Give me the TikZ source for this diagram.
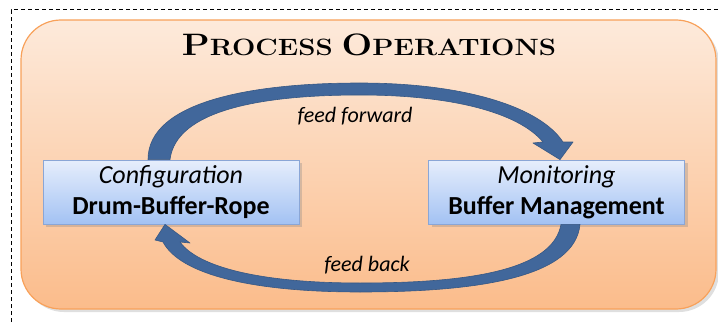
\documentclass[tikz,border=0pt]{standalone}
\usepackage{fontspec}
\setmainfont{Carlito}
\newfontfamily\titlefont[FakeStretch=1.17]{Latin Modern Roman}
\usetikzlibrary{arrows.meta,shadows}

\definecolor{orangeedge}{HTML}{F8A15A}
\definecolor{orangetop}{HTML}{FDEADB}
\definecolor{orangebot}{HTML}{FBBC8B}
\definecolor{boxtop}{HTML}{E6EEFC}
\definecolor{boxbot}{HTML}{A3C2F3}
\definecolor{boxedge}{HTML}{8AA6D6}
\definecolor{flowblue}{HTML}{41679B}

\tikzset{
  stagebox/.style={draw=boxedge, top color=boxtop, bottom color=boxbot,
    minimum width=128pt, minimum height=32pt, inner sep=0pt, align=center,
    font=\fontsize{13}{15.5}\selectfont,
    drop shadow={shadow xshift=1.5pt, shadow yshift=-1.5pt, opacity=0.3}},
  flow/.style={fill=flowblue, draw=flowblue!85!black, line width=0.3pt, line join=round},
  flowlabel/.style={font=\fontsize{11}{13}\selectfont\itshape}
}

\begin{document}
\begin{tikzpicture}[x=0.5pt,y=0.5pt]
  \useasboundingbox (0,0) rectangle (718,322);

  % frame and background
  \draw [dashed, dash pattern=on 2pt off 1.5pt, line width=0.5pt] (11,0) -- (11,312) -- (718,312);
  \draw [orangeedge, line width=0.6pt, top color=orangetop, bottom color=orangebot,
    rounded corners=20pt, drop shadow={shadow xshift=1.5pt, shadow yshift=-1.5pt, opacity=0.25}]
    (21,13) rectangle (716,302);

  % title
  \node (title) at (369,277) {\titlefont\bfseries
    {\fontsize{15.5}{18}\selectfont P}{\fontsize{11.8}{14}\selectfont ROCESS}
    {\fontsize{15.5}{18}\selectfont O}{\fontsize{11.8}{14}\selectfont PERATIONS}};

  % the two stages
  \node [stagebox] (cfg) at (171,130) {\textit{Configuration}\\\textbf{Drum-Buffer-Rope}};
  \node [stagebox] (mon) at (556.5,130) {\textit{Monitoring}\\\textbf{Buffer Management}};

  % feed forward (tapered arrow)
  \fill [flow] ([xshift=-11.5pt]cfg.north) .. controls (148,220) and (250,239) .. (360,239)
    .. controls (465,239) and (540,215) .. (563,180) -- (573,180)
    -- ([xshift=1.75pt]mon.north) -- (533,179) -- (543,180)
    .. controls (518,210) and (450,227) .. (360,227)
    .. controls (262,227) and (176,212) .. ([xshift=-0.5pt]cfg.north) -- cycle;
  % feed back (tapered arrow)
  \fill [flow] ([xshift=11.75pt]mon.south) .. controls (575,45) and (480,30) .. (360,30)
    .. controls (250,30) and (180,48) .. (163,80) -- (155,82)
    -- ([xshift=-3pt]cfg.south) -- (190,79) -- (180,80)
    .. controls (198,55) and (260,39) .. (360,39)
    .. controls (470,39) and (553,52) .. ([xshift=2.25pt]mon.south) -- cycle;

  \node [flowlabel] (fwd) at (355,206) {feed forward};
  \node [flowlabel] (back) at (367,57) {feed back};
\end{tikzpicture}
\end{document}
